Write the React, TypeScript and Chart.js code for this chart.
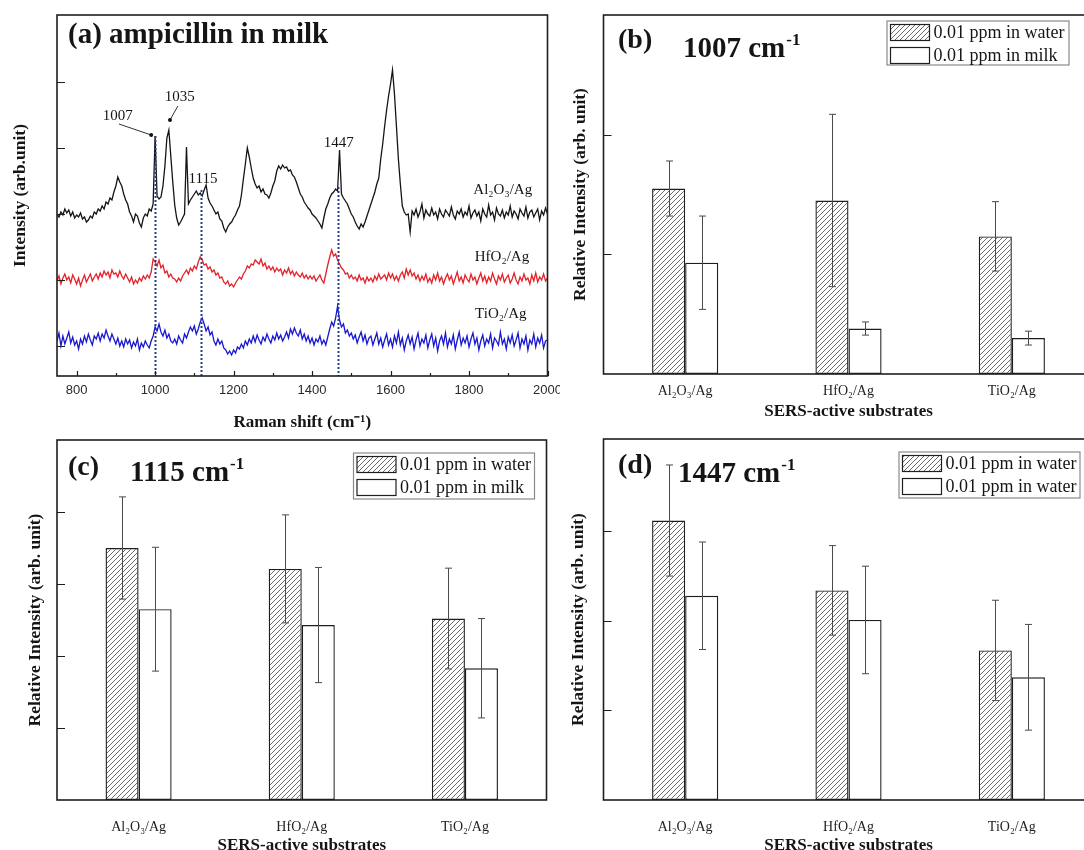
import React, { useEffect, useRef } from "react";
import { Chart, registerables } from "chart.js";

Chart.register(...registerables);

const SERIF = "'Liberation Serif', 'Times New Roman', Times, serif";
const SANS = "'Liberation Sans', Arial, Helvetica, sans-serif";
const INK = "#151515";

// ---------------- Panel (a): SERS spectra ----------------
const ramanShift = [
  750, 755, 760, 765, 770, 775, 780, 785, 790, 795,
  800, 805, 810, 815, 820, 825, 830, 835, 840, 845,
  850, 855, 860, 865, 870, 875, 880, 885, 890, 895,
  900, 905, 910, 915, 920, 925, 930, 935, 940, 945,
  950, 955, 960, 965, 970, 975, 980, 985, 990, 995,
  1000, 1005, 1010, 1015, 1020, 1025, 1030, 1035, 1040, 1045,
  1050, 1055, 1060, 1065, 1070, 1075, 1080, 1085, 1090, 1095,
  1100, 1105, 1110, 1115, 1120, 1125, 1130, 1135, 1140, 1145,
  1150, 1155, 1160, 1165, 1170, 1175, 1180, 1185, 1190, 1195,
  1200, 1205, 1210, 1215, 1220, 1225, 1230, 1235, 1240, 1245,
  1250, 1255, 1260, 1265, 1270, 1275, 1280, 1285, 1290, 1295,
  1300, 1305, 1310, 1315, 1320, 1325, 1330, 1335, 1340, 1345,
  1350, 1355, 1360, 1365, 1370, 1375, 1380, 1385, 1390, 1395,
  1400, 1405, 1410, 1415, 1420, 1425, 1430, 1435, 1440, 1445,
  1450, 1455, 1460, 1465, 1470, 1475, 1480, 1485, 1490, 1495,
  1500, 1505, 1510, 1515, 1520, 1525, 1530, 1535, 1540, 1545,
  1550, 1555, 1560, 1565, 1570, 1575, 1580, 1585, 1590, 1595,
  1600, 1605, 1610, 1615, 1620, 1625, 1630, 1635, 1640, 1645,
  1650, 1655, 1660, 1665, 1670, 1675, 1680, 1685, 1690, 1695,
  1700, 1705, 1710, 1715, 1720, 1725, 1730, 1735, 1740, 1745,
  1750, 1755, 1760, 1765, 1770, 1775, 1780, 1785, 1790, 1795,
  1800, 1805, 1810, 1815, 1820, 1825, 1830, 1835, 1840, 1845,
  1850, 1855, 1860, 1865, 1870, 1875, 1880, 1885, 1890, 1895,
  1900, 1905, 1910, 1915, 1920, 1925, 1930, 1935, 1940, 1945,
  1950, 1955, 1960, 1965, 1970, 1975, 1980, 1985, 1990, 1995,
  2000,
];

const al2o3Spectrum = [
  1600, 1570, 1620, 1590, 1650, 1610, 1640, 1580, 1620, 1560,
  1590, 1570, 1610, 1550, 1570, 1520, 1540, 1580, 1560, 1620,
  1600, 1650, 1630, 1680, 1650, 1720, 1700, 1760, 1740, 1820,
  1880, 1970, 1920, 1880, 1800, 1740, 1700, 1620, 1580, 1520,
  1600, 1580, 1510, 1470, 1560, 1600, 1580, 1650, 1630, 1700,
  2380, 1780, 1750, 1770, 1880, 2080, 2360, 2440, 2180, 1920,
  1690, 1560, 1490, 1520, 1560, 1600, 2270, 1700, 1740, 1770,
  1800, 1830, 1790, 1810, 1780, 1840, 1890, 1760, 1710, 1680,
  1640, 1600, 1620, 1550, 1530, 1460, 1420, 1470, 1500, 1520,
  1560, 1590, 1640, 1680, 1790, 1950, 2100, 2260, 2170, 2060,
  1960, 1900, 1860, 1880, 1820, 1850, 1800, 1790, 1760, 1810,
  1880, 1930, 2030, 2080, 2050, 2090, 2060, 2070, 2030, 2040,
  1990, 1970, 1920, 1860, 1800, 1770, 1720, 1690, 1660, 1640,
  1600, 1580, 1560, 1530, 1500, 1460, 1560, 1650, 1700, 1760,
  1800, 1820, 1850, 1830, 2240, 1800, 1760, 1730, 1700, 1650,
  1600, 1570, 1520, 1480, 1450, 1500, 1470, 1520, 1580, 1640,
  1700, 1760, 1820, 1900, 1960, 2150, 2300, 2480, 2640, 2780,
  2900, 3040, 2800, 2480, 2150, 1900, 1680, 1620, 1590, 1600,
  1420, 1630, 1590, 1650, 1570, 1620, 1700, 1560, 1640, 1600,
  1580, 1660, 1590, 1620, 1550, 1650, 1600, 1570, 1640, 1610,
  1580, 1670, 1590, 1550, 1630, 1600, 1650, 1570, 1620, 1590,
  1680, 1560, 1610, 1640, 1580, 1620, 1530, 1650, 1600, 1570,
  1690, 1590, 1620, 1540, 1660, 1600, 1580, 1640, 1560, 1620,
  1590, 1680, 1570, 1630, 1600, 1550, 1650, 1610, 1580, 1670,
  1560, 1620, 1640, 1570, 1610, 1650, 1540, 1630, 1590, 1660,
  1600,
];

const hfo2Spectrum = [
  930, 980, 900, 960, 1000, 940, 970, 910, 990, 950,
  900, 960, 880, 940, 990, 920, 960, 1000, 930, 970,
  1000, 950, 1010, 970, 1030, 990, 1020, 960, 1040, 1000,
  1010, 970, 1030, 980, 950, 1000, 960, 920, 970, 900,
  940, 910, 960, 930, 980, 950, 990, 960, 1020, 1150,
  1120, 1080, 1140, 1060, 1090, 1010, 1030, 970, 1000, 960,
  950, 920, 960, 930, 980, 1010, 1040, 1000, 1060, 1030,
  1080, 1050, 1120, 1170, 1140, 1090, 1100, 1050, 1070, 1020,
  1040, 990, 1010, 960, 970, 920, 900, 930, 880, 900,
  870, 910, 940, 970, 950, 1000, 1030, 1080, 1060, 1100,
  1090, 1140, 1120, 1100, 1150, 1080, 1110, 1050, 1080, 1040,
  1070, 1020, 1060, 1030, 1050, 990, 1040, 1010, 1060, 1000,
  1030, 980, 1020, 990, 970, 1010, 960, 990, 950, 980,
  950, 980, 930, 960, 990, 940, 910, 1000, 1090, 1170,
  1240, 1180, 1200, 1140, 1100, 1060, 1040, 1000, 1010, 960,
  990, 950, 970, 930, 990, 940, 960, 910, 970, 930,
  960, 920, 980, 940, 1000, 950, 970, 990, 940, 1010,
  960, 1000, 940, 980, 930, 990, 1020, 960, 1050, 990,
  1040, 980, 1010, 950, 990, 930, 980, 940, 1000, 920,
  960, 910, 990, 940, 1010, 930, 970, 900, 960, 1000,
  940, 980, 900, 960, 1020, 930, 970, 910, 990, 950,
  920, 1000, 940, 970, 900, 960, 1010, 930, 980, 910,
  970, 930, 1010, 950, 900, 980, 940, 1000, 920, 960,
  990, 910, 950, 1010, 940, 900, 970, 930, 1000, 940,
  960, 900, 990, 930, 1010, 920, 970, 940, 1000, 930,
  960,
];

const tio2Spectrum = [
  330, 410, 280, 380, 300, 360, 420, 310, 370, 290,
  330, 250, 350, 300, 380, 320, 400, 340, 290, 380,
  350, 410, 330, 400, 360, 440, 380, 330, 400, 350,
  300, 360, 280, 330, 270, 350, 300, 340, 260, 320,
  280, 350, 240, 310, 270, 330, 290, 260, 330, 380,
  470, 430, 500, 420, 380, 440, 360, 400, 330, 310,
  350, 300, 380, 340, 310, 400, 360, 420, 470, 430,
  480, 400, 450, 520, 560, 500, 430, 470, 390, 420,
  330, 290, 350, 300, 330, 260, 240, 200, 230, 190,
  240, 210, 270, 250, 300, 260, 330, 290, 350, 310,
  380, 320, 390, 340, 300, 370, 330, 400, 350, 310,
  380, 340, 410, 350, 390, 330, 370, 420, 360, 450,
  400, 460, 410, 380, 440, 350, 400, 330, 380, 310,
  360, 290, 350, 320, 380, 300, 340, 290, 370, 450,
  520, 480, 560, 680, 540, 470, 500, 410, 440, 380,
  410, 350, 390, 310, 370, 420, 330, 390, 300, 360,
  380, 290, 350, 410, 300, 360, 270, 340, 400, 290,
  350, 270, 380, 310, 420, 290, 360, 240, 330, 390,
  300, 370, 250, 340, 410, 280, 350, 310, 390, 260,
  340, 400, 280, 360, 230, 330, 380, 300, 410, 270,
  350, 300, 390, 250, 340, 420, 290, 360, 310, 380,
  270, 350, 410, 300, 360, 240, 330, 390, 280, 350,
  310, 400, 260, 360, 330, 290, 420, 300, 350, 250,
  370, 310, 390, 280, 340, 410, 260, 350, 300, 380,
  240, 340, 300, 400, 270, 360, 310, 390, 260, 330,
  340,
];

const spectrumNames = ["Al\u2082O\u2083/Ag", "HfO\u2082/Ag", "TiO\u2082/Ag"];
const ramanTicks = [800, 1000, 1200, 1400, 1600, 1800, 2000];
const ramanMinorTicks = [900, 1100, 1300, 1500, 1700, 1900];
const intensityTicks = [280, 940, 1600, 2260, 2920];
const peakLabels = ["1007", "1035", "1115", "1447"];
const markedPeaks = [1001, 1116, 1467];
const markedPeakTops = [2380, 1840, 1870];

// ---------------- Panels (b)-(d): relative intensities ----------------
const substrates = ["Al\u2082O\u2083/Ag", "HfO\u2082/Ag", "TiO\u2082/Ag"];
const legendMilk = ["0.01 ppm in water", "0.01 ppm in milk"];
const legendD = ["0.01 ppm in water", "0.01 ppm in water"];

const water1007 = [1.55, 1.45, 1.15];
const water1007Err = [0.23, 0.72, 0.29];
const milk1007 = [0.93, 0.38, 0.3];
const milk1007Err = [0.39, 0.055, 0.058];

const water1115 = [3.5, 3.21, 2.52];
const water1115Err = [0.71, 0.75, 0.7];
const milk1115 = [2.65, 2.43, 1.83];
const milk1115Err = [0.86, 0.8, 0.69];

const water1447 = [3.12, 2.34, 1.67];
const water1447Err = [0.62, 0.5, 0.56];
const milk1447 = [2.28, 2.01, 1.37];
const milk1447Err = [0.6, 0.6, 0.59];

const ticks1007 = [1, 2];
const ticks1115 = [1, 2, 3, 4];
const ticks1447 = [1, 2, 3];

// ---------------- layout / style (not data) ----------------
const annotationLayout = {
  peakLabelAt: [
    [905, 2580],
    [1063, 2770],
    [1122, 1950],
    [1468, 2310],
  ],
  arrows: [
    [908, 2500, 990, 2390],
    [1058, 2680, 1038, 2540],
  ],
  nameAt: [
    [1886, 1840],
    [1884, 1170],
    [1881, 600],
  ],
};

function makeHatch(ctx: CanvasRenderingContext2D) {
  const c = document.createElement("canvas");
  c.width = 5;
  c.height = 5;
  const g = c.getContext("2d") as CanvasRenderingContext2D;
  g.fillStyle = "#ffffff";
  g.fillRect(0, 0, 5, 5);
  g.strokeStyle = "#5a5a5a";
  g.lineWidth = 0.9;
  g.beginPath();
  g.moveTo(0, 5);
  g.lineTo(5, 0);
  g.moveTo(-1, 1);
  g.lineTo(1, -1);
  g.moveTo(4, 6);
  g.lineTo(6, 4);
  g.stroke();
  return ctx.createPattern(c, "repeat");
}

function framePlugin(cfg: { yTicks: number[]; xMajor?: number[]; xMinor?: number[] }) {
  return {
    id: "frame",
    afterDatasetsDraw(chart: any) {
      const { ctx, chartArea: a, scales } = chart;
      ctx.save();
      ctx.strokeStyle = "#1e1e1e";
      ctx.lineWidth = 1.2;
      ctx.beginPath();
      for (const v of cfg.yTicks) {
        const y = Math.round(scales.y.getPixelForValue(v)) + 0.5;
        ctx.moveTo(a.left, y);
        ctx.lineTo(a.left + 8, y);
      }
      for (const v of cfg.xMajor || []) {
        const x = Math.round(scales.x.getPixelForValue(v)) + 0.5;
        ctx.moveTo(x, a.bottom);
        ctx.lineTo(x, a.bottom - 5);
      }
      for (const v of cfg.xMinor || []) {
        const x = Math.round(scales.x.getPixelForValue(v)) + 0.5;
        ctx.moveTo(x, a.bottom);
        ctx.lineTo(x, a.bottom - 3);
      }
      ctx.stroke();
      ctx.lineWidth = 1.6;
      ctx.strokeRect(a.left, a.top, a.right - a.left, a.bottom - a.top);
      ctx.restore();
    },
  };
}

type TitlePart = { text: string; dx: number; dy: number; size: number; sup?: string };
function titlePlugin(parts: TitlePart[]) {
  return {
    id: "panelTitle",
    afterDraw(chart: any) {
      const { ctx, chartArea: a } = chart;
      ctx.save();
      ctx.fillStyle = INK;
      ctx.textBaseline = "alphabetic";
      ctx.textAlign = "left";
      for (const p of parts) {
        ctx.font = `bold ${p.size}px ${SERIF}`;
        const x = a.left + p.dx;
        const y = a.top + p.dy;
        ctx.fillText(p.text, x, y);
        if (p.sup) {
          const w = ctx.measureText(p.text).width;
          ctx.font = `bold ${Math.round(p.size * 0.6)}px ${SERIF}`;
          ctx.fillText(p.sup, x + w + 1, y - p.size * 0.42);
        }
      }
      ctx.restore();
    },
  };
}

function errorBarPlugin(errs: number[][]) {
  return {
    id: "errorBars",
    afterDatasetsDraw(chart: any) {
      const { ctx, scales } = chart;
      ctx.save();
      ctx.strokeStyle = "#4a4a4a";
      ctx.lineWidth = 1;
      chart.data.datasets.forEach((ds: any, i: number) => {
        const meta = chart.getDatasetMeta(i);
        meta.data.forEach((el: any, j: number) => {
          const v = ds.data[j];
          const e = errs[i][j];
          const x = Math.round(el.x) + 0.5;
          const y1 = scales.y.getPixelForValue(v + e);
          const y2 = scales.y.getPixelForValue(v - e);
          ctx.beginPath();
          ctx.moveTo(x, y1);
          ctx.lineTo(x, y2);
          ctx.moveTo(x - 3.5, y1);
          ctx.lineTo(x + 3.5, y1);
          ctx.moveTo(x - 3.5, y2);
          ctx.lineTo(x + 3.5, y2);
          ctx.stroke();
        });
      });
      ctx.restore();
    },
  };
}

function boxLegendPlugin(g: { right: number; top: number; w: number; h: number }) {
  return {
    id: "boxLegend",
    afterDraw(chart: any) {
      const { ctx, chartArea: a } = chart;
      const left = a.right - g.right - g.w;
      const top = a.top + g.top;
      ctx.save();
      ctx.strokeStyle = "#8a8a8a";
      ctx.lineWidth = 1.2;
      ctx.strokeRect(left, top, g.w, g.h);
      ctx.font = `18px ${SERIF}`;
      ctx.textBaseline = "middle";
      ctx.textAlign = "left";
      chart.data.datasets.forEach((ds: any, i: number) => {
        const cy = top + 11.5 + i * 23;
        ctx.fillStyle = ds.backgroundColor;
        ctx.fillRect(left + 3.5, cy - 8, 39, 16);
        ctx.strokeStyle = "#1e1e1e";
        ctx.lineWidth = 1.2;
        ctx.strokeRect(left + 3.5, cy - 8, 39, 16);
        ctx.fillStyle = INK;
        ctx.fillText(ds.label, left + 46.5, cy + 1);
      });
      ctx.restore();
    },
  };
}

function spectrumAnnotations() {
  return {
    id: "spectrumAnnotations",
    afterDatasetsDraw(chart: any) {
      const { ctx, scales, chartArea: a } = chart;
      const X = (v: number) => scales.x.getPixelForValue(v);
      const Y = (v: number) => scales.y.getPixelForValue(v);
      ctx.save();
      ctx.strokeStyle = "#24408c";
      ctx.lineWidth = 2;
      ctx.setLineDash([2, 2]);
      markedPeaks.forEach((p, i) => {
        const x = Math.round(X(p)) + 0.5;
        ctx.beginPath();
        ctx.moveTo(x, Y(markedPeakTops[i]));
        ctx.lineTo(x, a.bottom);
        ctx.stroke();
      });
      ctx.setLineDash([]);
      ctx.strokeStyle = "#333";
      ctx.fillStyle = "#111";
      ctx.lineWidth = 1;
      annotationLayout.arrows.forEach(([x1, y1, x2, y2]) => {
        ctx.beginPath();
        ctx.moveTo(X(x1), Y(y1));
        ctx.lineTo(X(x2), Y(y2));
        ctx.stroke();
        ctx.beginPath();
        ctx.arc(X(x2), Y(y2), 2, 0, Math.PI * 2);
        ctx.fill();
      });
      ctx.fillStyle = INK;
      ctx.textAlign = "center";
      ctx.textBaseline = "middle";
      ctx.font = `15px ${SERIF}`;
      peakLabels.forEach((t, i) => {
        const [px, py] = annotationLayout.peakLabelAt[i];
        ctx.fillText(t, X(px), Y(py));
      });
      spectrumNames.forEach((t, i) => {
        const [px, py] = annotationLayout.nameAt[i];
        ctx.fillText(t, X(px), Y(py));
      });
      ctx.restore();
    },
  };
}

function buildSpectrum(canvas: HTMLCanvasElement) {
  const pts = (ys: number[]) => ramanShift.map((x, i) => ({ x, y: ys[i] }));
  const line = (label: string, ys: number[], color: string) => ({
    label,
    data: pts(ys),
    borderColor: color,
    backgroundColor: color,
    borderWidth: 1.3,
    pointRadius: 0,
    tension: 0,
    fill: false,
  });
  return new Chart(canvas, {
    type: "line",
    data: {
      datasets: [
        line(spectrumNames[2], tio2Spectrum, "#1818d0"),
        line(spectrumNames[1], hfo2Spectrum, "#e3222a"),
        line(spectrumNames[0], al2o3Spectrum, "#141414"),
      ],
    },
    options: {
      responsive: false,
      animation: false,
      events: [],
      layout: { padding: { left: 0, right: 12.5, top: 15, bottom: 0 } },
      plugins: { legend: { display: false }, tooltip: { enabled: false } },
      scales: {
        x: {
          type: "linear",
          min: 750,
          max: 2000,
          afterBuildTicks: (s: any) => {
            s.ticks = ramanTicks.map((v) => ({ value: v }));
          },
          afterFit: (s: any) => {
            s.height = 64;
            s.paddingLeft = 0;
            s.paddingRight = 0;
          },
          grid: { display: false, drawTicks: false },
          border: { display: false },
          ticks: {
            font: { family: SANS, size: 13 },
            color: "#2a2a2a",
            padding: 6.5,
            maxRotation: 0,
            autoSkip: false,
            callback: (v: any) => String(v),
          },
          title: {
            display: true,
            text: "Raman shift (cm\u207B\u00B9)",
            color: INK,
            font: { family: SERIF, size: 17, weight: "bold", lineHeight: 1.2 },
            padding: { top: 0, bottom: 6.8 },
          },
        },
        y: {
          type: "linear",
          min: -20,
          max: 3590,
          afterFit: (s: any) => {
            s.width = 57;
            s.paddingTop = 0;
            s.paddingBottom = 0;
          },
          grid: { display: false, drawTicks: false },
          border: { display: false },
          ticks: { display: false },
          title: {
            display: true,
            text: "Intensity (arb.unit)",
            color: INK,
            font: { family: SERIF, size: 17.5, weight: "bold", lineHeight: 1.2 },
            padding: { top: 9.5, bottom: 0 },
          },
        },
      },
    } as any,
    plugins: [
      spectrumAnnotations(),
      framePlugin({ yTicks: intensityTicks, xMajor: ramanTicks, xMinor: ramanMinorTicks }),
      titlePlugin([{ text: "(a) ampicillin in milk", dx: 11, dy: 28, size: 29 }]),
    ],
  });
}

type BarSpec = {
  labels: string[];
  water: number[];
  waterErr: number[];
  milk: number[];
  milkErr: number[];
  yMax: number;
  yTicks: number[];
  padTop: number;
  padRight: number;
  yWidth: number;
  xHeight: number;
  tickPad: number;
  xTitlePad: number;
  yTitlePad: number;
  legend: { right: number; top: number; w: number; h: number };
  title: TitlePart[];
};

function buildBars(canvas: HTMLCanvasElement, spec: BarSpec) {
  const ctx2d = canvas.getContext("2d") as CanvasRenderingContext2D;
  const hatch = makeHatch(ctx2d);
  const common = {
    borderColor: "#1e1e1e",
    borderWidth: 1.4,
    borderSkipped: false,
    categoryPercentage: 0.405,
    barPercentage: 1,
  };
  return new Chart(canvas, {
    type: "bar",
    data: {
      labels: substrates,
      datasets: [
        { label: spec.labels[0], data: spec.water, backgroundColor: hatch, ...common },
        { label: spec.labels[1], data: spec.milk, backgroundColor: "#ffffff", ...common },
      ],
    },
    options: {
      responsive: false,
      animation: false,
      events: [],
      layout: { padding: { left: 0, right: spec.padRight, top: spec.padTop, bottom: 0 } },
      plugins: { legend: { display: false }, tooltip: { enabled: false } },
      scales: {
        x: {
          type: "category",
          offset: true,
          afterFit: (s: any) => {
            s.height = spec.xHeight;
            s.paddingLeft = 0;
            s.paddingRight = 0;
          },
          grid: { display: false, drawTicks: false },
          border: { display: false },
          ticks: {
            font: { family: SERIF, size: 14 },
            color: "#222",
            padding: spec.tickPad,
            maxRotation: 0,
            autoSkip: false,
          },
          title: {
            display: true,
            text: "SERS-active substrates",
            color: INK,
            font: { family: SERIF, size: 17, weight: "bold", lineHeight: 1.2 },
            padding: { top: 0, bottom: spec.xTitlePad },
          },
        },
        y: {
          type: "linear",
          min: 0,
          max: spec.yMax,
          afterFit: (s: any) => {
            s.width = spec.yWidth;
            s.paddingTop = 0;
            s.paddingBottom = 0;
          },
          grid: { display: false, drawTicks: false },
          border: { display: false },
          ticks: { display: false },
          title: {
            display: true,
            text: "Relative Intensity (arb. unit)",
            color: INK,
            font: { family: SERIF, size: 17.5, weight: "bold", lineHeight: 1.2 },
            padding: { top: spec.yTitlePad, bottom: 0 },
          },
        },
      },
    } as any,
    plugins: [
      framePlugin({ yTicks: spec.yTicks }),
      errorBarPlugin([spec.waterErr, spec.milkErr]),
      boxLegendPlugin(spec.legend),
      titlePlugin(spec.title),
    ],
  });
}

function Panel(props: {
  left: number;
  top: number;
  width: number;
  height: number;
  build: (c: HTMLCanvasElement) => Chart;
}) {
  const ref = useRef<HTMLCanvasElement>(null);
  useEffect(() => {
    const chart = props.build(ref.current as HTMLCanvasElement);
    return () => chart.destroy();
  }, []);
  return (
    <canvas
      ref={ref}
      width={props.width}
      height={props.height}
      style={{
        position: "absolute",
        left: props.left,
        top: props.top,
        width: props.width,
        height: props.height,
      }}
    />
  );
}

export default function App() {
  return (
    <div
      style={{
        position: "fixed",
        left: 0,
        top: 0,
        width: 1084,
        height: 850,
        overflow: "hidden",
        background: "#ffffff",
      }}
    >
      <Panel left={0} top={0} width={560} height={440} build={buildSpectrum} />
      <Panel
        left={550}
        top={0}
        width={560}
        height={432}
        build={(c) =>
          buildBars(c, {
            labels: legendMilk,
            water: water1007,
            waterErr: water1007Err,
            milk: milk1007,
            milkErr: milk1007Err,
            yMax: 3,
            yTicks: ticks1007,
            padTop: 15,
            padRight: 16.5,
            yWidth: 53.5,
            xHeight: 58,
            tickPad: 8.6,
            xTitlePad: 9.8,
            yTitlePad: 19.5,
            legend: { right: 24.5, top: 6, w: 182, h: 44 },
            title: [
              { text: "(b)", dx: 14.5, dy: 33, size: 28 },
              { text: "1007 cm", dx: 79.5, dy: 42, size: 29, sup: "-1" },
            ],
          })
        }
      />
      <Panel
        left={0}
        top={420}
        width={560}
        height={440}
        build={(c) =>
          buildBars(c, {
            labels: legendMilk,
            water: water1115,
            waterErr: water1115Err,
            milk: milk1115,
            milkErr: milk1115Err,
            yMax: 5,
            yTicks: ticks1115,
            padTop: 20,
            padRight: 13.5,
            yWidth: 57,
            xHeight: 60,
            tickPad: 18.6,
            xTitlePad: 3.8,
            yTitlePad: 24.5,
            legend: { right: 12, top: 13, w: 181, h: 46 },
            title: [
              { text: "(c)", dx: 11, dy: 35, size: 28 },
              { text: "1115 cm", dx: 73, dy: 41, size: 29, sup: "-1" },
            ],
          })
        }
      />
      <Panel
        left={550}
        top={420}
        width={560}
        height={440}
        build={(c) =>
          buildBars(c, {
            labels: legendD,
            water: water1447,
            waterErr: water1447Err,
            milk: milk1447,
            milkErr: milk1447Err,
            yMax: 4.03,
            yTicks: ticks1447,
            padTop: 19,
            padRight: 16.5,
            yWidth: 53.5,
            xHeight: 60,
            tickPad: 18.6,
            xTitlePad: 3.8,
            yTitlePad: 17.5,
            legend: { right: 13.5, top: 13, w: 181, h: 46 },
            title: [
              { text: "(d)", dx: 14.5, dy: 34, size: 28 },
              { text: "1447 cm", dx: 74.5, dy: 43, size: 29, sup: "-1" },
            ],
          })
        }
      />
    </div>
  );
}
